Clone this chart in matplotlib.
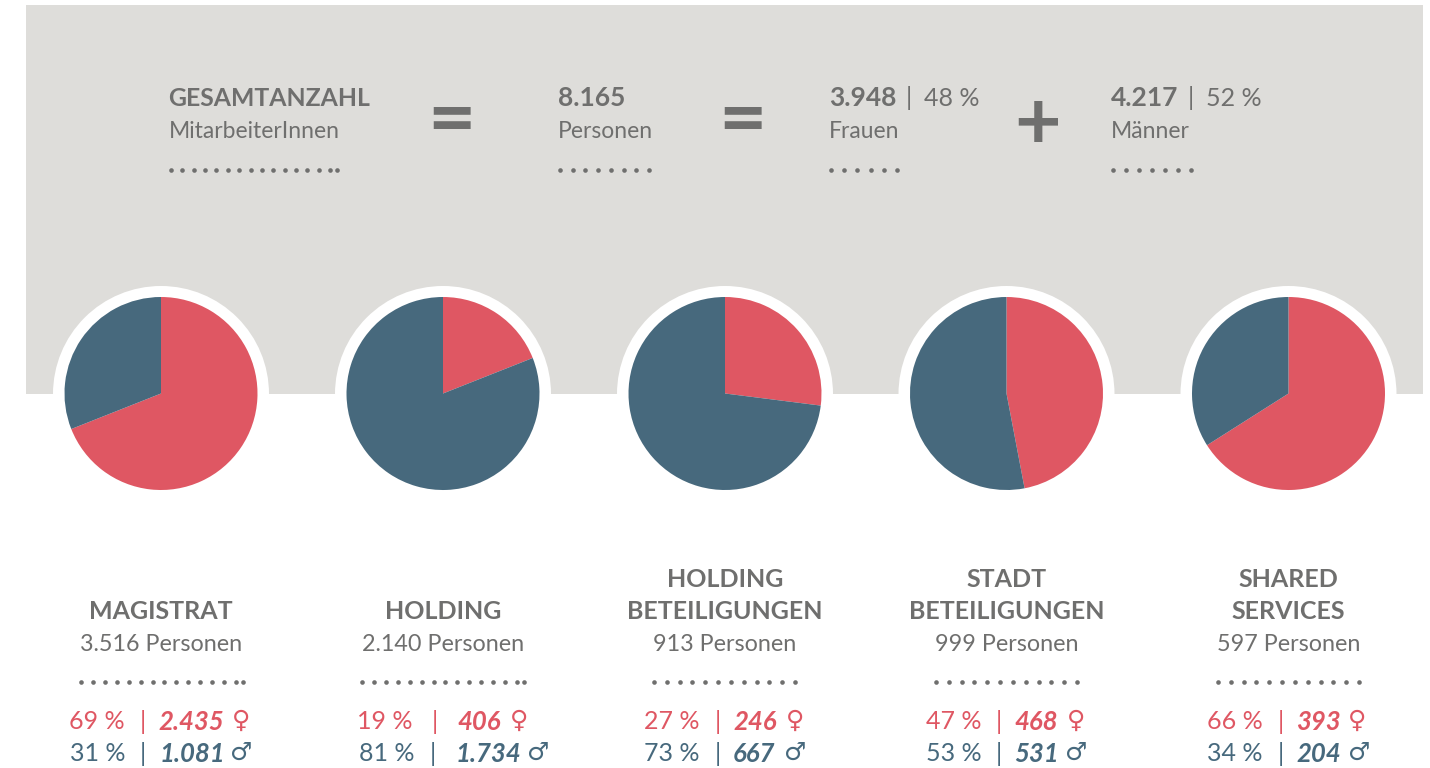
import numpy as np
import matplotlib
matplotlib.use('Agg')
from matplotlib import pyplot as plt
from matplotlib.patches import Rectangle, Circle

# Daten
names = [['MAGISTRAT'], ['HOLDING'], ['HOLDING', 'BETEILIGUNGEN'],
         ['STADT', 'BETEILIGUNGEN'], ['SHARED', 'SERVICES']]
persons = ['3.516', '2.140', '913', '999', '597']
women_pct = [69, 19, 27, 47, 66]
men_pct = [31, 81, 73, 53, 34]
women_n = ['2.435', '406', '246', '468', '393']
men_n = ['1.081', '1.734', '667', '531', '204']

total = '8.165'
total_women = '3.948'
total_men = '4.217'
total_women_pct = 48
total_men_pct = 52

RED = '#df5763'
BLUE = '#47697d'
GREY = '#6f6f6e'
BG = '#dedddA'

plt.rcParams['font.family'] = ['Lato', 'DejaVu Sans']

fig = plt.figure(figsize=(14.30, 7.68), dpi=100)
ax = fig.add_axes([0, 0, 1, 1])


def Y(py):
    # Pixel von oben -> Achse von unten
    return 768 - py


def txt(x, y, s, size=16, color=GREY, weight='normal', ha='left', style='normal', **kw):
    ax.text(x, Y(y + 1.5), s, fontsize=size, color=color, fontweight=weight, ha=ha, va='center',
            fontstyle=style, **kw)


def dots(x0, x1, y, n, tail=False):
    # bei manchen Reihen sitzt der letzte Punkt enger
    if tail:
        xs = list(np.linspace(x0, x1 - 7, n - 1)) + [x1]
    else:
        xs = list(np.linspace(x0, x1, n))
    ax.scatter(xs, [Y(y)] * len(xs), s=11, color=GREY, linewidths=0, zorder=3)


ax.add_patch(Rectangle((26, Y(394)), 1397, 389, color=BG, lw=0, zorder=0))

# Kopfzeile
txt(168.5, 97, 'GESAMTANZAHL', size=17.8, weight='bold')
txt(169, 130, 'MitarbeiterInnen', size=16.5)
dots(171, 337, 170, 16, tail=True)
txt(451, 121, '=', size=60, weight='bold', ha='center')
txt(558, 97, total, size=19, weight='bold')
txt(558, 130, 'Personen', size=16.5)
dots(560, 649, 170, 8)
txt(742, 121, '=', size=60, weight='bold', ha='center')
txt(829, 97, total_women, size=19, weight='bold')
txt(909, 97, '|', size=18, ha='center')
txt(924, 97, f'{total_women_pct} %', size=18)
txt(829, 130, 'Frauen', size=16.5)
dots(831, 897, 170, 6)
txt(1038, 124, '+', size=58, weight='bold', ha='center')
txt(1111, 97, total_men, size=19, weight='bold')
txt(1191, 97, '|', size=18, ha='center')
txt(1206, 97, f'{total_men_pct} %', size=18)
txt(1111, 130, 'Männer', size=16.5)
dots(1113, 1191, 170, 7)

centers = [161, 443, 725, 1006.5, 1288.5]
# x-Positionen: Prozent, Strich, Anzahl, Symbol
women_x = [(69, 143, 158, 241), (357, 435, 457, 519), (644, 718, 733, 795),
           (926, 999, 1014, 1076), (1207, 1281, 1296, 1357)]
men_x = [(70, 143, 160, 241), (359, 433, 456, 538), (644, 718, 733, 795),
         (926, 999, 1014, 1076), (1207, 1281, 1296, 1359)]
dot_x = [(81, 243, 15, True), (362, 524, 15, True), (654, 795, 12, False),
         (936, 1077, 12, False), (1218, 1359, 12, False)]

for i, cx in enumerate(centers):
    ax.add_patch(Circle((cx, Y(394)), 108, color='white', lw=0, zorder=1))
    wedges, _ = ax.pie([women_pct[i], men_pct[i]], colors=[RED, BLUE], startangle=90,
                       counterclock=False, center=(cx, Y(393.5)), radius=96.5, frame=True)
    for w in wedges:
        w.set_zorder(2)

    for k, line in enumerate(reversed(names[i])):
        txt(cx, 610 - 32 * k, line, size=18, weight='bold', ha='center')
    txt(cx, 643, f'{persons[i]} Personen', size=16.8, ha='center')
    dots(dot_x[i][0], dot_x[i][1], 682, dot_x[i][2], tail=dot_x[i][3])

    px, bx, nx, sx = women_x[i]
    txt(px, 720, f'{women_pct[i]} %', size=18, color=RED)
    txt(bx, 720, '|', size=18, color=RED, ha='center')
    txt(nx, 720, women_n[i], size=18.5, color=RED, weight='bold', style='italic')
    txt(sx, 719, '♀', size=18, color=RED, ha='center')

    px, bx, nx, sx = men_x[i]
    txt(px, 752, f'{men_pct[i]} %', size=18, color=BLUE)
    txt(bx, 752, '|', size=18, color=BLUE, ha='center')
    txt(nx, 752, men_n[i], size=18.5, color=BLUE, weight='bold', style='italic')
    txt(sx, 751, '♂', size=18, color=BLUE, ha='center')

ax.set_xlim(0, 1430)
ax.set_ylim(0, 768)
ax.set_aspect('auto')
ax.axis('off')

fig.savefig('out.png', dpi=100, facecolor='white')
